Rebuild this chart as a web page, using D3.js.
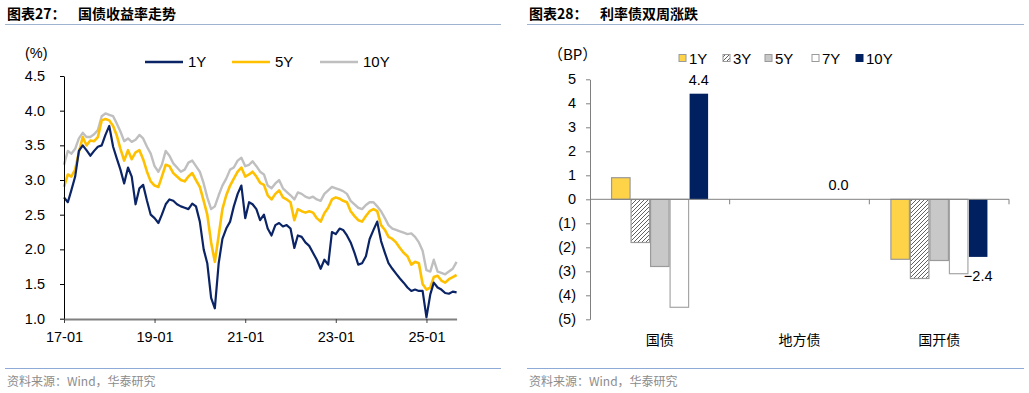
<!DOCTYPE html>
<html lang="zh">
<head>
<meta charset="UTF-8">
<title>国债收益率走势 / 利率债双周涨跌</title>
<script src="https://d3js.org/d3.v7.min.js"></script>
<style>
  body { margin: 0; background: #fff; }
  svg { display: block; font-family: "Liberation Sans", Arial, "Noto Sans CJK SC", sans-serif; }
  .cjk { font-family: "Noto Sans CJK SC", sans-serif; }
</style>
</head>
<body>
<svg id="chart" width="1029" height="393"></svg>
<script>
// ---- left chart data: month-end yields (%), 2017-01 .. 2025-09
const startMonth = new Date(2017, 0, 1);
const endMonth = new Date(2025, 8, 1);
const yield1Y = [
  2.75, 2.68, 2.85, 3.05, 3.42, 3.50, 3.43, 3.35, 3.42, 3.48, 3.50, 3.65,
  3.78, 3.48, 3.32, 3.15, 2.95, 3.18, 3.05, 2.65, 2.88, 2.93, 2.70, 2.50,
  2.45, 2.38, 2.50, 2.65, 2.72, 2.70, 2.65, 2.62, 2.60, 2.58, 2.66, 2.62,
  2.40, 2.00, 1.80, 1.30, 1.15, 1.80, 2.15, 2.30, 2.40, 2.62, 2.80, 2.92,
  2.45, 2.68, 2.65, 2.58, 2.42, 2.50, 2.30, 2.20, 2.35, 2.38, 2.33, 2.35,
  2.30, 2.02, 2.20, 2.18, 2.10, 2.05, 1.95, 1.85, 1.72, 1.85, 1.78, 2.25,
  2.22, 2.30, 2.28, 2.20, 2.10, 1.95, 1.78, 1.80, 1.90, 2.15, 2.28, 2.40,
  2.12, 1.95, 1.80, 1.72, 1.65, 1.58, 1.52, 1.45, 1.40, 1.42, 1.40, 1.40,
  1.02, 1.35, 1.52, 1.45, 1.42, 1.37, 1.36, 1.39, 1.38
];
const yield5Y = [
  2.90, 3.08, 3.05, 3.15, 3.40, 3.62, 3.50, 3.57, 3.56, 3.62, 3.86, 3.88,
  3.86, 3.78, 3.65, 3.45, 3.28, 3.43, 3.30, 3.40, 3.43, 3.30, 3.12, 2.98,
  2.92, 2.90, 3.05, 3.22, 3.20, 3.10, 3.05, 3.00, 2.98, 3.05, 3.10, 3.00,
  2.90, 2.70, 2.50, 2.10, 1.82, 2.20, 2.58, 2.78, 2.92, 3.02, 3.12, 3.18,
  3.05, 3.08, 3.12, 3.05, 2.96, 2.93, 2.78, 2.72, 2.80, 2.85, 2.75, 2.72,
  2.68, 2.42, 2.58, 2.55, 2.53, 2.55, 2.53, 2.45, 2.40, 2.52, 2.60, 2.72,
  2.75, 2.73, 2.70, 2.68, 2.55, 2.48, 2.42, 2.40, 2.48, 2.55, 2.58, 2.55,
  2.35, 2.28, 2.18, 2.15, 2.10, 2.02, 1.95, 1.90, 1.78, 1.82, 1.80, 1.50,
  1.42, 1.45, 1.60, 1.62, 1.55, 1.52, 1.57, 1.60, 1.63
];
const yield10Y = [
  3.22, 3.42, 3.38, 3.45, 3.60, 3.68, 3.62, 3.62, 3.66, 3.72, 3.92, 3.96,
  3.94, 3.92, 3.82, 3.70, 3.56, 3.60, 3.55, 3.58, 3.65, 3.60, 3.48, 3.38,
  3.20, 3.12, 3.22, 3.42, 3.35, 3.24, 3.18, 3.12, 3.15, 3.25, 3.28, 3.20,
  3.12, 2.95, 2.75, 2.58, 2.62, 2.78, 2.92, 3.02, 3.15, 3.18, 3.28, 3.32,
  3.20, 3.22, 3.27, 3.20, 3.12, 3.08, 2.92, 2.88, 2.95, 3.00, 2.88, 2.83,
  2.78, 2.72, 2.82, 2.80, 2.76, 2.74, 2.76, 2.72, 2.70, 2.80, 2.85, 2.90,
  2.88, 2.86, 2.84, 2.80, 2.70, 2.65, 2.60, 2.58, 2.64, 2.68, 2.68, 2.62,
  2.55, 2.45, 2.35, 2.30, 2.28, 2.26, 2.24, 2.22, 2.23, 2.18, 2.10, 1.98,
  1.70, 1.68, 1.85, 1.68, 1.66, 1.64, 1.68, 1.72, 1.82
];
const yieldTicks = [1.0, 1.5, 2.0, 2.5, 3.0, 3.5, 4.0, 4.5];
const dateTicks = ["2017-01", "2019-01", "2021-01", "2023-01", "2025-01"];

// ---- right chart data: two-week change (BP)
const bondTypes = ["国债", "地方债", "国开债"];
const tenors = ["1Y", "3Y", "5Y", "7Y", "10Y"];
const chg1Y = [0.9, 0.0, -2.5];
const chg3Y = [-1.8, 0.0, -3.3];
const chg5Y = [-2.8, 0.0, -2.55];
const chg7Y = [-4.5, 0.0, -3.1];
const chg10Y = [4.4, 0.0, -2.4];
const bpTicks = [-5, -4, -3, -2, -1, 0, 1, 2, 3, 4, 5];

const svg = d3.select("#chart");

// hatch for 3Y bars
svg.append("defs").append("pattern")
    .attr("id", "hatch")
    .attr("patternUnits", "userSpaceOnUse")
    .attr("width", 4).attr("height", 4)
  .call(p => {
    p.append("rect").attr("width", 4).attr("height", 4).attr("fill", "#fff");
    p.append("path").attr("d", "M-1,1 l2,-2 M0,4 l4,-4 M3,5 l2,-2")
      .attr("stroke", "#505050").attr("stroke-width", 0.9);
  });

// ---- titles, rules, sources
function header(x0, x1, num, text) {
  svg.append("text").attr("class", "cjk").attr("x", x0 + 2).attr("y", 19)
    .attr("font-size", 14).attr("font-weight", "bold").text("图表" + num + "：");
  svg.append("text").attr("class", "cjk").attr("x", x0 + 73).attr("y", 19)
    .attr("font-size", 14).attr("font-weight", "bold").text(text);
  svg.append("line").attr("x1", x0).attr("x2", x1).attr("y1", 24.5).attr("y2", 24.5)
    .attr("stroke", "#9db3cf").attr("stroke-width", 1.2);
  svg.append("line").attr("x1", x0).attr("x2", x1).attr("y1", 368.5).attr("y2", 368.5)
    .attr("stroke", "#8eaad6").attr("stroke-width", 1.2);
  svg.append("text").attr("class", "cjk").attr("x", x0 + 2).attr("y", 386)
    .attr("font-size", 12).attr("fill", "#8c8c8c").text("资料来源：Wind，华泰研究");
}
header(5, 501, "27", "国债收益率走势");
header(527, 1024, "28", "利率债双周涨跌");

// ---- left: yield lines
const months = d3.timeMonth.range(startMonth, d3.timeMonth.offset(endMonth, 1));
const x = d3.scaleTime().domain([startMonth, endMonth]).range([64, 456.6]);
const y = d3.scaleLinear().domain([1, 4.5]).range([318.7, 76]);
const parseMonth = d3.timeParse("%Y-%m");

const series = [
  { name: "1Y", values: yield1Y, color: "#0b2466", width: 2.2 },
  { name: "5Y", values: yield5Y, color: "#ffc000", width: 2.6 },
  { name: "10Y", values: yield10Y, color: "#bfbfbf", width: 2.4 }
];

const line = d3.line().x((d, i) => x(months[i])).y(d => y(d));
const left = svg.append("g");
series.slice().reverse().forEach(s => {
  left.append("path").datum(s.values).attr("d", line)
    .attr("fill", "none").attr("stroke", s.color)
    .attr("stroke-width", s.width).attr("stroke-linejoin", "round");
});

const yAxisL = left.append("g").attr("transform", "translate(64,0)")
  .call(d3.axisLeft(y).tickValues(yieldTicks).tickFormat(d3.format(".1f"))
    .tickSize(4).tickSizeOuter(0).tickPadding(15));
yAxisL.select(".domain").attr("stroke", "#000");
yAxisL.selectAll("text").attr("font-size", 14.5).attr("fill", "#000");

const xAxisL = left.append("g").attr("transform", "translate(0,319)")
  .call(d3.axisBottom(x).tickValues(dateTicks.map(parseMonth))
    .tickFormat(d3.timeFormat("%y-%m")).tickSize(4).tickSizeOuter(0).tickPadding(9));
xAxisL.select(".domain").attr("stroke", "#808080").attr("stroke-width", 2);
xAxisL.selectAll(".tick line").attr("stroke", "#404040");
xAxisL.selectAll("text").attr("font-size", 14.5).attr("fill", "#000");
left.append("text").attr("x", 25).attr("y", 58).attr("font-size", 14.5).text("(%)");

const legL = left.append("g");
const legLX = [145, 232, 320];
series.forEach((s, i) => {
  legL.append("line").attr("x1", legLX[i]).attr("x2", legLX[i] + 38)
    .attr("y1", 62).attr("y2", 62).attr("stroke", s.color).attr("stroke-width", 2.6);
  legL.append("text").attr("x", legLX[i] + 43).attr("y", 67)
    .attr("font-size", 15).text(s.name);
});

// ---- right: grouped bars
const bars = [
  { name: "1Y", values: chg1Y, fill: "#ffd347", stroke: "#9a9a9a" },
  { name: "3Y", values: chg3Y, fill: "url(#hatch)", stroke: "#9a9a9a" },
  { name: "5Y", values: chg5Y, fill: "#c8c8c8", stroke: "#9a9a9a" },
  { name: "7Y", values: chg7Y, fill: "#ffffff", stroke: "#a6a6a6" },
  { name: "10Y", values: chg10Y, fill: "#00205f", stroke: "none" }
];
const x0 = d3.scaleBand().domain(bondTypes).range([590, 1009]);
const x1 = d3.scaleBand().domain(tenors).range([0, x0.bandwidth()]).paddingOuter(1.08);
const yb = d3.scaleLinear().domain([-5, 5]).range([319.3, 79.3]);

const right = svg.append("g");
bars.forEach(b => {
  right.append("g").selectAll("rect").data(b.values).join("rect")
    .attr("x", (d, i) => x0(bondTypes[i]) + x1(b.name) + 0.5)
    .attr("width", x1.bandwidth() - 1)
    .attr("y", d => yb(Math.max(0, d)))
    .attr("height", d => Math.abs(yb(d) - yb(0)))
    .attr("fill", b.fill).attr("stroke", b.stroke).attr("stroke-width", 1.2);
});

// 10Y labels
right.append("g").selectAll("text").data(chg10Y).join("text")
  .attr("x", (d, i) => x0(bondTypes[i]) + x1("10Y") + x1.bandwidth() / 2)
  .attr("y", d => d >= 0 ? yb(d) - 9 : yb(d) + 24)
  .attr("text-anchor", "middle").attr("font-size", 14.5)
  .text(d => d3.format(".1f")(d));

const yAxisR = right.append("g").attr("transform", "translate(590,0)")
  .call(d3.axisLeft(yb).tickValues(bpTicks)
    .tickFormat(d => d < 0 ? "(" + (-d) + ")" : String(d))
    .tickSize(4).tickSizeOuter(0).tickPadding(10));
yAxisR.select(".domain").attr("stroke", "#808080");
yAxisR.selectAll(".tick line").attr("stroke", "#808080");
yAxisR.selectAll("text").attr("font-size", 14.5).attr("fill", "#000");

// category axis along zero
right.append("line").attr("x1", 590).attr("x2", 1009)
  .attr("y1", yb(0)).attr("y2", yb(0)).attr("stroke", "#808080");
right.append("g").selectAll("line").data(bondTypes).join("line")
  .attr("x1", d => x0(d) + x0.bandwidth()).attr("x2", d => x0(d) + x0.bandwidth())
  .attr("y1", yb(0)).attr("y2", yb(0) + 5).attr("stroke", "#808080");
right.append("g").selectAll("text").data(bondTypes).join("text")
  .attr("class", "cjk")
  .attr("x", d => x0(d) + x0.bandwidth() / 2).attr("y", 345)
  .attr("text-anchor", "middle").attr("font-size", 14).text(d => d);

right.append("text").attr("class", "cjk").attr("x", 548).attr("y", 60)
  .attr("font-size", 15).text("（BP）");

const legR = right.append("g");
const legRX = [679, 723, 765, 812, 856];
bars.forEach((b, i) => {
  legR.append("rect").attr("x", legRX[i]).attr("y", 54.5).attr("width", 7).attr("height", 7)
    .attr("fill", b.fill).attr("stroke", b.name === "10Y" ? "#00205f" : "#9a9a9a");
  legR.append("text").attr("x", legRX[i] + 10).attr("y", 64)
    .attr("font-size", 15).text(b.name);
});
</script>
</body>
</html>
